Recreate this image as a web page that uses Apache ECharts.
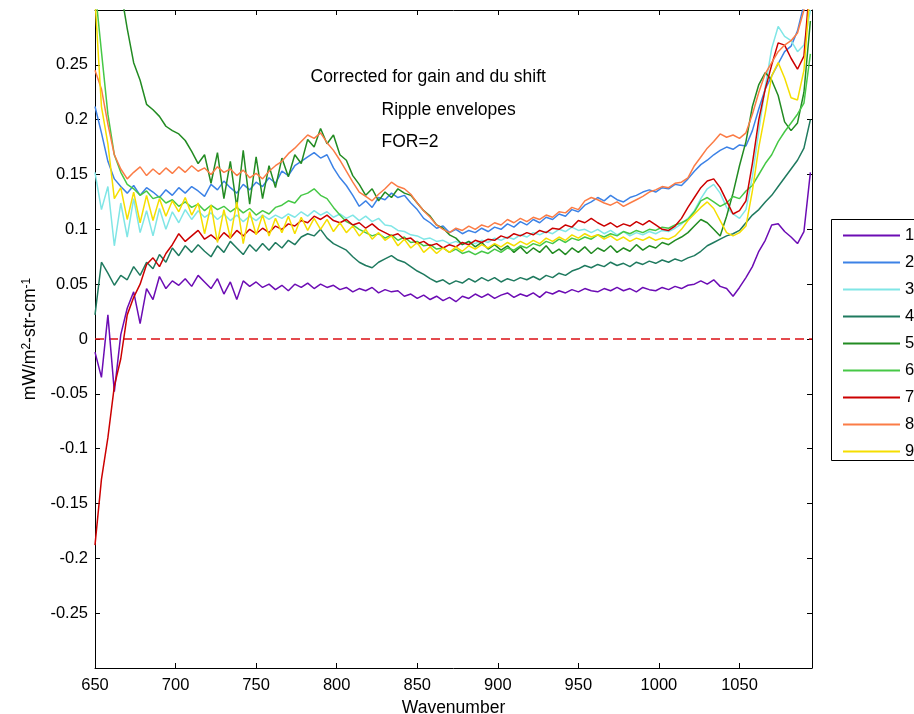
<!DOCTYPE html>
<html>
<head>
<meta charset="utf-8">
<script src="https://cdn.jsdelivr.net/npm/echarts@6/dist/echarts.min.js"></script>
<style>
  html, body { margin: 0; padding: 0; background: #fff; }
  #chart { width: 914px; height: 714px; }
</style>
</head>
<body>
<div id="chart"></div>
<script>
// Wavenumber grid (cm^-1) shared by all nine spectra
const wavenumber = [
  650,654,658,662,666,670,674,678,682,686,
  690,694,698,702,706,710,714,718,722,726,
  730,734,738,742,746,750,754,758,762,766,
  770,774,778,782,786,790,794,798,802,806,
  810,814,818,822,826,830,834,838,842,846,
  850,854,858,862,866,870,874,878,882,886,
  890,894,898,902,906,910,914,918,922,926,
  930,934,938,942,946,950,954,958,962,966,
  970,974,978,982,986,990,994,998,1002,1006,
  1010,1014,1018,1022,1026,1030,1034,1038,1042,1046,
  1050,1054,1058,1062,1066,1070,1074,1078,1082,1086,
  1090,1094
];

// Ripple-envelope radiance per FOR, mW/m^2-str-cm^-1
const radiance1 = [
  -0.012,-0.035,0.022,-0.048,0.004,0.028,0.043,0.014,0.046,0.036,
  0.057,0.046,0.053,0.049,0.055,0.048,0.058,0.052,0.046,0.055,
  0.041,0.052,0.036,0.053,0.048,0.052,0.047,0.05,0.045,0.049,
  0.044,0.05,0.047,0.051,0.046,0.05,0.047,0.049,0.045,0.047,
  0.043,0.046,0.044,0.047,0.042,0.045,0.043,0.044,0.039,0.041,
  0.037,0.04,0.036,0.039,0.035,0.038,0.034,0.039,0.037,0.041,
  0.038,0.041,0.037,0.04,0.042,0.038,0.041,0.039,0.042,0.038,
  0.043,0.041,0.044,0.042,0.045,0.043,0.046,0.044,0.043,0.046,
  0.044,0.047,0.044,0.046,0.043,0.047,0.045,0.044,0.047,0.045,
  0.048,0.046,0.049,0.05,0.053,0.05,0.054,0.048,0.046,0.039,
  0.047,0.056,0.066,0.08,0.09,0.104,0.105,0.098,0.093,0.087,
  0.098,0.152
];
const radiance2 = [
  0.212,0.188,0.162,0.146,0.139,0.133,0.14,0.131,0.138,0.134,
  0.129,0.136,0.131,0.138,0.133,0.139,0.135,0.13,0.141,0.136,
  0.144,0.138,0.133,0.141,0.136,0.143,0.139,0.147,0.142,0.153,
  0.149,0.158,0.162,0.166,0.17,0.165,0.168,0.156,0.147,0.14,
  0.131,0.121,0.126,0.12,0.129,0.127,0.133,0.129,0.131,0.124,
  0.118,0.11,0.106,0.101,0.103,0.097,0.1,0.096,0.099,0.097,
  0.101,0.098,0.102,0.1,0.105,0.102,0.107,0.104,0.109,0.106,
  0.111,0.109,0.114,0.112,0.118,0.116,0.122,0.125,0.129,0.126,
  0.131,0.127,0.125,0.129,0.131,0.134,0.136,0.134,0.138,0.137,
  0.141,0.14,0.146,0.153,0.159,0.163,0.168,0.172,0.175,0.173,
  0.177,0.176,0.19,0.21,0.228,0.24,0.251,0.262,0.267,0.281,
  0.305,0.35
];
const radiance3 = [
  0.152,0.118,0.139,0.085,0.124,0.093,0.128,0.097,0.117,0.094,
  0.119,0.1,0.116,0.106,0.118,0.109,0.117,0.111,0.115,0.109,
  0.114,0.108,0.113,0.107,0.112,0.108,0.113,0.109,0.113,0.11,
  0.114,0.111,0.116,0.112,0.117,0.113,0.116,0.111,0.114,0.11,
  0.113,0.108,0.112,0.107,0.11,0.104,0.103,0.099,0.098,0.095,
  0.094,0.091,0.092,0.089,0.09,0.087,0.089,0.086,0.089,0.087,
  0.09,0.088,0.092,0.09,0.093,0.091,0.095,0.093,0.097,0.095,
  0.098,0.096,0.1,0.098,0.102,0.099,0.1,0.097,0.1,0.096,
  0.099,0.095,0.098,0.094,0.097,0.095,0.098,0.096,0.099,0.098,
  0.101,0.105,0.11,0.117,0.128,0.137,0.141,0.133,0.12,0.114,
  0.11,0.118,0.148,0.19,0.23,0.265,0.285,0.276,0.272,0.262,
  0.268,0.3
];
const radiance4 = [
  0.022,0.07,0.06,0.049,0.058,0.054,0.066,0.058,0.07,0.064,
  0.077,0.07,0.083,0.076,0.085,0.079,0.086,0.08,0.075,0.085,
  0.079,0.089,0.083,0.077,0.086,0.08,0.087,0.081,0.088,0.083,
  0.09,0.086,0.093,0.096,0.094,0.1,0.092,0.087,0.084,0.081,
  0.075,0.07,0.067,0.065,0.07,0.073,0.076,0.072,0.07,0.066,
  0.062,0.059,0.055,0.052,0.054,0.05,0.053,0.051,0.055,0.052,
  0.056,0.053,0.056,0.052,0.055,0.053,0.056,0.054,0.057,0.054,
  0.058,0.056,0.06,0.058,0.062,0.064,0.067,0.065,0.068,0.066,
  0.07,0.067,0.069,0.066,0.07,0.068,0.071,0.069,0.072,0.07,
  0.073,0.071,0.074,0.076,0.08,0.085,0.088,0.091,0.094,0.096,
  0.099,0.106,0.113,0.118,0.125,0.131,0.139,0.147,0.155,0.163,
  0.174,0.2
];
const radiance5 = [
  0.45,0.42,0.385,0.35,0.318,0.283,0.252,0.236,0.214,0.209,
  0.203,0.194,0.19,0.187,0.181,0.171,0.16,0.168,0.142,0.17,
  0.128,0.162,0.12,0.172,0.123,0.166,0.128,0.158,0.138,0.165,
  0.148,0.168,0.16,0.182,0.175,0.192,0.178,0.186,0.168,0.163,
  0.149,0.141,0.131,0.137,0.126,0.134,0.129,0.137,0.133,0.131,
  0.124,0.117,0.112,0.104,0.101,0.095,0.092,0.086,0.089,0.084,
  0.088,0.082,0.086,0.081,0.085,0.079,0.084,0.078,0.083,0.079,
  0.085,0.078,0.082,0.077,0.083,0.079,0.084,0.078,0.083,0.08,
  0.085,0.079,0.083,0.08,0.086,0.081,0.085,0.083,0.088,0.086,
  0.09,0.093,0.097,0.103,0.109,0.106,0.1,0.094,0.112,0.133,
  0.158,0.18,0.212,0.232,0.243,0.236,0.222,0.198,0.19,0.197,
  0.225,0.29
];
const radiance6 = [
  0.32,0.262,0.205,0.168,0.152,0.141,0.137,0.131,0.135,0.128,
  0.13,0.124,0.127,0.121,0.125,0.12,0.123,0.117,0.122,0.118,
  0.121,0.116,0.12,0.115,0.119,0.113,0.117,0.114,0.12,0.122,
  0.126,0.124,0.131,0.133,0.137,0.131,0.128,0.12,0.113,0.107,
  0.104,0.1,0.097,0.094,0.096,0.092,0.095,0.09,0.093,0.088,
  0.089,0.085,0.086,0.082,0.083,0.079,0.082,0.078,0.08,0.077,
  0.08,0.078,0.082,0.079,0.083,0.081,0.085,0.083,0.087,0.085,
  0.089,0.087,0.091,0.088,0.092,0.09,0.093,0.091,0.095,0.093,
  0.096,0.094,0.098,0.096,0.099,0.097,0.1,0.099,0.102,0.101,
  0.104,0.106,0.109,0.116,0.126,0.129,0.125,0.121,0.124,0.13,
  0.128,0.135,0.14,0.15,0.16,0.168,0.18,0.189,0.197,0.205,
  0.215,0.26
];
const radiance7 = [
  -0.188,-0.128,-0.09,-0.043,-0.018,0.022,0.038,0.05,0.068,0.074,
  0.066,0.078,0.086,0.096,0.089,0.094,0.099,0.091,0.095,0.09,
  0.097,0.092,0.099,0.094,0.1,0.096,0.101,0.097,0.103,0.1,
  0.105,0.103,0.108,0.106,0.112,0.109,0.113,0.108,0.106,0.109,
  0.104,0.106,0.101,0.105,0.1,0.097,0.094,0.096,0.091,0.092,
  0.087,0.089,0.085,0.087,0.083,0.086,0.084,0.088,0.086,0.09,
  0.088,0.091,0.09,0.094,0.092,0.096,0.094,0.097,0.095,0.099,
  0.097,0.101,0.1,0.104,0.102,0.108,0.106,0.11,0.106,0.103,
  0.106,0.102,0.105,0.103,0.107,0.104,0.108,0.104,0.1,0.099,
  0.103,0.11,0.12,0.129,0.138,0.144,0.146,0.138,0.126,0.114,
  0.117,0.126,0.16,0.2,0.228,0.25,0.27,0.268,0.256,0.246,
  0.258,0.33
];
const radiance8 = [
  0.245,0.228,0.196,0.168,0.155,0.146,0.152,0.157,0.149,0.155,
  0.15,0.156,0.151,0.157,0.152,0.158,0.153,0.156,0.15,0.157,
  0.152,0.155,0.149,0.154,0.147,0.151,0.146,0.153,0.158,0.162,
  0.169,0.174,0.18,0.186,0.183,0.188,0.179,0.172,0.163,0.153,
  0.143,0.134,0.13,0.126,0.132,0.137,0.143,0.139,0.137,0.132,
  0.124,0.117,0.111,0.104,0.1,0.097,0.101,0.099,0.103,0.1,
  0.104,0.102,0.106,0.104,0.109,0.106,0.11,0.107,0.111,0.109,
  0.113,0.111,0.116,0.115,0.12,0.118,0.126,0.129,0.127,0.124,
  0.122,0.125,0.121,0.124,0.127,0.13,0.134,0.136,0.139,0.138,
  0.142,0.143,0.147,0.158,0.166,0.174,0.18,0.187,0.184,0.186,
  0.183,0.188,0.205,0.225,0.242,0.252,0.262,0.268,0.272,0.279,
  0.3,0.34
];
const radiance9 = [
  0.31,0.212,0.178,0.128,0.138,0.109,0.134,0.106,0.131,0.108,
  0.128,0.112,0.126,0.116,0.129,0.113,0.124,0.096,0.122,0.088,
  0.118,0.092,0.125,0.087,0.116,0.095,0.113,0.094,0.11,0.097,
  0.112,0.096,0.111,0.099,0.11,0.1,0.109,0.098,0.106,0.097,
  0.103,0.094,0.1,0.091,0.097,0.09,0.094,0.085,0.091,0.083,
  0.088,0.079,0.084,0.078,0.083,0.079,0.084,0.08,0.085,0.082,
  0.086,0.083,0.087,0.084,0.088,0.085,0.089,0.086,0.09,0.087,
  0.092,0.089,0.093,0.09,0.095,0.092,0.096,0.093,0.095,0.091,
  0.094,0.09,0.093,0.089,0.092,0.09,0.093,0.09,0.092,0.091,
  0.094,0.1,0.108,0.114,0.12,0.125,0.119,0.108,0.097,0.094,
  0.097,0.103,0.135,0.175,0.206,0.24,0.252,0.238,0.22,0.218,
  0.245,0.32
];

const forNames = ['1', '2', '3', '4', '5', '6', '7', '8', '9'];
const forColors = ['#6c0cb4', '#3c82e6', '#80e6e6', '#1f7a5f', '#228b22',
                   '#46c846', '#cc0000', '#fb7c46', '#f5de00'];
const xRange = [650, 1095];
const zeroLevel = 0;
const notes = ['Corrected for gain and du shift', 'Ripple envelopes', 'FOR=2'];

const FONT = '"Liberation Sans", Arial, Helvetica, sans-serif';
const allRadiance = [radiance1, radiance2, radiance3, radiance4, radiance5,
                     radiance6, radiance7, radiance8, radiance9];

// dashed reference at zero radiance, spanning the full axis
const series = [{
  name: 'zero',
  type: 'line',
  data: xRange.map(w => [w, zeroLevel]),
  symbol: 'none',
  silent: true,
  lineStyle: { color: '#dc0f14', width: 1.6, type: [9, 5] },
  z: 2
}];

allRadiance.forEach((vals, k) => {
  series.push({
    name: forNames[k],
    type: 'line',
    data: wavenumber.map((w, i) => [w, vals[i]]),
    symbol: 'none',
    clip: true,
    color: forColors[k],
    lineStyle: { width: 1.5, color: forColors[k] },
    z: 3
  });
});

const boxLine = { show: true, onZero: false, lineStyle: { color: '#000', width: 1 } };
const innerTick = { show: true, inside: true, length: 5, lineStyle: { color: '#000', width: 1 } };

const xLabelFmt = v => (v % 50 === 0 ? String(v) : '');
const yLabelFmt = v => {
  if (Math.abs(Math.abs(v) - 0.3) < 1e-6) return '';
  return String(parseFloat(v.toFixed(3)));
};

const chart = echarts.init(document.getElementById('chart'), null, { renderer: 'canvas' });
chart.setOption({
  animation: false,
  backgroundColor: '#fff',
  grid: { left: 95, right: 102, top: 10, bottom: 46, containLabel: false, outerBoundsMode: 'none' },
  xAxis: [
    {
      type: 'value', position: 'bottom', min: xRange[0], max: xRange[1], interval: 50,
      axisLine: boxLine, axisTick: innerTick, splitLine: { show: false },
      axisLabel: { color: '#000', fontSize: 16.5, fontFamily: FONT, margin: 9, formatter: xLabelFmt },
      name: 'Wavenumber', nameLocation: 'middle', nameGap: 29,
      nameTextStyle: { color: '#000', fontSize: 17.5, fontFamily: FONT }
    },
    {
      type: 'value', position: 'top', min: xRange[0], max: xRange[1], interval: 50,
      axisLine: boxLine, axisTick: innerTick, splitLine: { show: false },
      axisLabel: { show: false }
    }
  ],
  yAxis: [
    {
      type: 'value', position: 'left', min: -0.3, max: 0.3, interval: 0.05,
      axisLine: boxLine, axisTick: innerTick, splitLine: { show: false },
      axisLabel: { color: '#000', fontSize: 16.5, fontFamily: FONT, margin: 7, formatter: yLabelFmt },
      name: '{n|mW/m}{s|2}{n|-str-cm}{s|-1}',
      nameLocation: 'middle', nameGap: 56,
      nameTextStyle: {
        color: '#000', fontSize: 17.5, fontFamily: FONT,
        rich: {
          n: { fontSize: 17.5, fontFamily: FONT, color: '#000' },
          s: { fontSize: 12, fontFamily: FONT, color: '#000', verticalAlign: 'top' }
        }
      }
    },
    {
      type: 'value', position: 'right', min: -0.3, max: 0.3, interval: 0.05,
      axisLine: boxLine, axisTick: innerTick, splitLine: { show: false },
      axisLabel: { show: false }
    }
  ],
  legend: {
    data: forNames,
    orient: 'vertical',
    left: 842, top: 227,
    padding: 0,
    itemWidth: 57, itemHeight: 16, itemGap: 10,
    selectedMode: false,
    itemStyle: { opacity: 0 },
    textStyle: { color: '#000', fontSize: 16.5, fontFamily: FONT, lineHeight: 16 },
    z: 20
  },
  graphic: {
    elements: [
      {
        type: 'rect', z: 1, silent: true,
        shape: { x: 831.5, y: 219.5, width: 100, height: 241 },
        style: { fill: '#fff', stroke: '#000', lineWidth: 1 }
      },
      {
        type: 'text', x: 310.5, y: 77, z: 10, silent: true,
        style: { text: notes[0], fill: '#000', fontSize: 17.5, fontFamily: FONT, verticalAlign: 'middle' }
      },
      {
        type: 'text', x: 381.5, y: 110.5, z: 10, silent: true,
        style: { text: notes[1], fill: '#000', fontSize: 17.5, fontFamily: FONT, verticalAlign: 'middle' }
      },
      {
        type: 'text', x: 381.5, y: 142, z: 10, silent: true,
        style: { text: notes[2], fill: '#000', fontSize: 17.5, fontFamily: FONT, verticalAlign: 'middle' }
      }
    ]
  },
  series: series
});
</script>
</body>
</html>
